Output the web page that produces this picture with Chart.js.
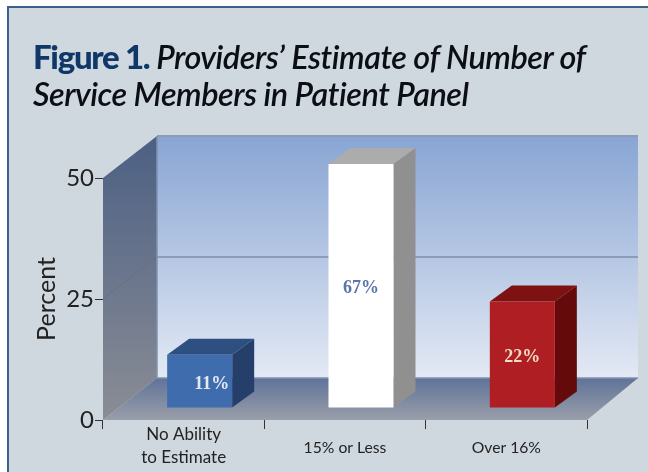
<!DOCTYPE html>
<html>
<head>
<meta charset="utf-8">
<script src="https://cdn.jsdelivr.net/npm/chart.js@4"></script>
<style>
  html, body { margin: 0; padding: 0; background: #fff; }
  body { width: 648px; height: 472px; overflow: hidden; position: relative; }
  #panel { position: absolute; left: 7px; top: 6px; width: 641px; height: 466px; background: #cfd7df; border-left: 2px solid #3a6189; border-top: 2px solid #3a6189; box-sizing: border-box; }
  #title { position: absolute; left: 33px; top: 38px; margin: 0; font: italic 600 32.4px/37px Lato, sans-serif; color: #0b0f14; letter-spacing: -0.45px; white-space: nowrap; filter: blur(0.3px); }
  #title b { font-style: normal; font-size: 33px; font-weight: 900; color: #0f3768; letter-spacing: -1.3px; }
  #wrap { position: absolute; left: 0; top: 0; width: 648px; height: 472px; filter: blur(0.45px); }
</style>
</head>
<body>
<div id="panel"></div>
<div id="wrap"><canvas id="chart" width="648" height="472"></canvas></div>
<h1 id="title"><b>Figure 1.</b> Providers’ Estimate of Number of<br>Service Members in Patient Panel</h1>
<script>
// Valores
const categories = [['No Ability', 'to Estimate'], '15% or Less', 'Over 16%'];
const percentValues = [11, 67, 22];
const percentLabels = ['11%', '67%', '22%'];
const yTicks = [0, 25, 50];

// Cores das barras
const frontColors = ['#3f6cad', '#ffffff', '#af1e22'];
const topColors = ['#2e5080', '#acacac', '#7e1212'];
const sideColors = ['#263f6a', '#909090', '#640a0a'];
const labelColors = ['#e3e8f3', '#5a76a8', '#f2dcc4'];

// Profundidade do "3D"
const wallDx = 54, wallDy = 42;
const barShiftX = 16, barShiftY = 12;
const barDx = 22, barDy = 16;
const clipOver = 2;

function vGradient(ctx, y0, y1, c0, c1) {
  const g = ctx.createLinearGradient(0, y0, 0, y1);
  g.addColorStop(0, c0);
  g.addColorStop(1, c1);
  return g;
}

function poly(ctx, pts, fill) {
  ctx.beginPath();
  pts.forEach((p, i) => i ? ctx.lineTo(p[0], p[1]) : ctx.moveTo(p[0], p[1]));
  ctx.closePath();
  ctx.fillStyle = fill;
  ctx.fill();
}

const box3d = {
  id: 'box3d',
  // paredes e chao
  beforeDatasetsDraw(chart) {
    const { ctx, chartArea: a, scales: { y } } = chart;
    const top = a.top, bot = a.bottom, l = a.left, r = a.right;
    const bl = l + wallDx, br = r + wallDx - 3, bt = top - wallDy, bb = bot - wallDy;

    poly(ctx, [[bl, bt], [br, bt], [br, bb], [bl, bb]], vGradient(ctx, bt, bb, '#88a5d3', '#e3e9f4'));
    poly(ctx, [[l, top], [bl, bt], [bl, bb], [l, bot]], vGradient(ctx, bt, bot, '#4c6084', '#8a8d95'));
    poly(ctx, [[l, bot], [bl, bb], [br, bb], [r, bot]], vGradient(ctx, bb, bot, '#5f7399', '#9a9ea9'));

    ctx.save();
    yTicks.forEach(t => {
      if (t === 0) return;
      const py = y.getPixelForValue(t);
      if (t !== 50) {
        ctx.beginPath();
        ctx.moveTo(l, py);
        ctx.lineTo(bl, py - wallDy);
        ctx.strokeStyle = 'rgba(110,105,105,0.55)';
        ctx.lineWidth = 1;
        ctx.stroke();
      }
      ctx.beginPath();
      ctx.moveTo(bl, py - wallDy);
      ctx.lineTo(br, py - wallDy);
      ctx.strokeStyle = '#8d9bb8';
      ctx.lineWidth = 2;
      ctx.stroke();
    });
    ctx.beginPath();
    ctx.moveTo(bl, bt);
    ctx.lineTo(bl, bb);
    ctx.lineTo(br, bb);
    ctx.strokeStyle = '#8391ad';
    ctx.lineWidth = 1.5;
    ctx.stroke();
    ctx.restore();

    // topo e lateral das barras
    chart.getDatasetMeta(0).data.forEach((el, i) => {
      const x1 = el.x + el.width / 2 + barShiftX;
      const x0 = el.x - el.width / 2 + barShiftX;
      const yt = Math.max(el.y, a.top - clipOver) - barShiftY;
      const yb = el.base - barShiftY;
      poly(ctx, [[x0, yt], [x0 + barDx, yt - barDy], [x1 + barDx, yt - barDy], [x1, yt]], topColors[i]);
      poly(ctx, [[x1, yt], [x1 + barDx, yt - barDy], [x1 + barDx, yb - barDy], [x1, yb]], sideColors[i]);
    });
  },
  // a face da frente vem do proprio Chart.js, so deslocada
  beforeDatasetDraw(chart) {
    chart.ctx.save();
    chart.ctx.translate(barShiftX, -barShiftY);
  },
  afterDatasetDraw(chart) {
    chart.ctx.restore();
  },
  afterDatasetsDraw(chart) {
    const { ctx, chartArea: a } = chart;
    ctx.save();
    ctx.font = 'bold 18px "Liberation Serif", serif';
    ctx.textAlign = 'center';
    ctx.textBaseline = 'middle';
    chart.getDatasetMeta(0).data.forEach((el, i) => {
      const yt = Math.max(el.y, a.top - clipOver) - barShiftY;
      const yb = el.base - barShiftY;
      ctx.fillStyle = labelColors[i];
      ctx.fillText(percentLabels[i], el.x + barShiftX + (i === 0 ? 12 : 0), (yt + yb) / 2 + 3);
    });
    ctx.restore();
  }
};

new Chart(document.getElementById('chart'), {
  type: 'bar',
  data: {
    labels: categories,
    datasets: [{
      data: percentValues,
      backgroundColor: frontColors,
      borderWidth: 0,
      categoryPercentage: 1,
      barPercentage: 0.403,
      clip: { left: 0, right: 0, bottom: 0, top: clipOver }
    }]
  },
  options: {
    responsive: false,
    animation: false,
    layout: { padding: { left: 0, right: 61, top: 178, bottom: 0 } },
    plugins: { legend: { display: false }, tooltip: { enabled: false }, title: { display: false } },
    scales: {
      x: {
        afterFit: s => { s.height = 52; },
        border: { display: false },
        grid: { drawOnChartArea: false, drawTicks: true, tickLength: 9, color: '#333', offset: true },
        ticks: {
          color: '#222',
          padding: 6,
          crossAlign: 'center',
          maxRotation: 0,
          font: c => ({ family: 'Lato', size: c.index === 0 ? 17 : 15.7, lineHeight: c.index === 0 ? 1.3 : 1.2 })
        }
      },
      y: {
        min: 0,
        max: 50,
        afterFit: s => { s.width = 103; },
        afterBuildTicks: s => { s.ticks = yTicks.map(v => ({ value: v })); },
        border: { display: false },
        grid: { drawOnChartArea: false, drawTicks: true, tickLength: 8, color: '#333' },
        ticks: { color: '#222', padding: 1, font: { family: 'Lato', size: 24 } },
        title: {
          display: true,
          text: 'Percent',
          color: '#222',
          font: { family: 'Lato', size: 25 },
          padding: { top: 32, bottom: 0 }
        }
      }
    }
  },
  plugins: [box3d]
});
</script>
</body>
</html>
